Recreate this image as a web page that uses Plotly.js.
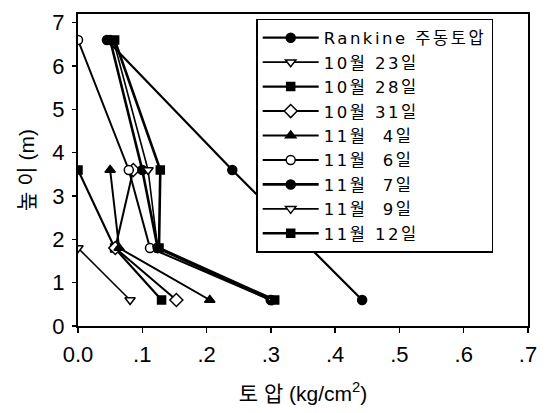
<!DOCTYPE html>
<html>
<head>
<meta charset="utf-8">
<script src="https://cdn.plot.ly/plotly-3.0.1.min.js"></script>
<style>html,body{margin:0;padding:0;background:#fff;}#chart{width:548px;height:413px;}
.legendtext{letter-spacing:2.5px;}</style>
</head>
<body>
<div id="chart"></div>
<script>
// Series names (legend order)
const seriesNames = ["Rankine 주동토압", "10월 23일", "10월 28일", "10월 31일", "11월 \u00a04일", "11월 \u00a06일", "11월 \u00a07일", "11월 \u00a09일", "11월 12일"];

// Earth pressure (kg/cm2) and heights (m) per series
const rankineX = [0.045, 0.24, 0.442];
const rankineY = [6.6, 3.6, 0.6];
const oct23X = [0.0, 0.081];
const oct23Y = [1.8, 0.6];
const oct28X = [0.0, 0.057, 0.13];
const oct28Y = [3.6, 1.8, 0.6];
const oct31X = [0.086, 0.058, 0.153];
const oct31Y = [3.6, 1.8, 0.6];
const nov4X = [0.05, 0.064, 0.205];
const nov4Y = [3.6, 1.8, 0.6];
const nov6X = [0.0, 0.079, 0.112, 0.30];
const nov6Y = [6.6, 3.6, 1.8, 0.6];
const nov7X = [0.05, 0.10, 0.124, 0.30];
const nov7Y = [6.6, 3.6, 1.8, 0.6];
const nov9X = [0.055, 0.109, 0.124, 0.302];
const nov9Y = [6.6, 3.6, 1.8, 0.6];
const nov12X = [0.057, 0.128, 0.126, 0.306];
const nov12Y = [6.6, 3.6, 1.8, 0.6];

// Axis ticks
const xTickVals = [0, 0.1, 0.2, 0.3, 0.4, 0.5, 0.6, 0.7];
const xTickText = ["0.0", ".1", ".2", ".3", ".4", ".5", ".6", ".7"];
const yTickVals = [0, 1, 2, 3, 4, 5, 6, 7];

const styles = [
  {sym: "circle", fill: "black", size: 9, lw: 2.2},
  {sym: "triangle-down", fill: "white", size: 9, lw: 1.6},
  {sym: "square", fill: "black", size: 8, lw: 2.2},
  {sym: "diamond", fill: "white", size: 10, lw: 2},
  {sym: "triangle-up", fill: "black", size: 9, lw: 2},
  {sym: "circle", fill: "white", size: 9, lw: 2},
  {sym: "circle", fill: "black", size: 9, lw: 2.6},
  {sym: "triangle-down", fill: "white", size: 9, lw: 1.6},
  {sym: "square", fill: "black", size: 8, lw: 2.6}
];
const xs = [rankineX, oct23X, oct28X, oct31X, nov4X, nov6X, nov7X, nov9X, nov12X];
const ys = [rankineY, oct23Y, oct28Y, oct31Y, nov4Y, nov6Y, nov7Y, nov9Y, nov12Y];

const traces = seriesNames.map((n, i) => ({
  x: xs[i], y: ys[i], name: n, type: "scatter", mode: "lines+markers",
  line: {color: "black", width: styles[i].lw},
  marker: {symbol: styles[i].sym, size: styles[i].size, color: styles[i].fill,
           line: {color: "black", width: 1.5}}
}));

const font = "'Liberation Sans', 'Noto Sans CJK KR', Arial, sans-serif";
const legFont = "'DejaVu Sans', 'Noto Sans CJK KR', sans-serif";
const layout = {
  width: 548, height: 413,
  margin: {l: 78, r: 20, t: 14, b: 87},
  paper_bgcolor: "white", plot_bgcolor: "white",
  font: {family: font, color: "black", size: 20},
  showlegend: true,
  legend: {
    x: 0.396, y: 0.984, xanchor: "left", yanchor: "top",
    bgcolor: "white", bordercolor: "black", borderwidth: 1.5,
    font: {family: legFont, size: 16.5, color: "black"},
    itemwidth: 56,
    entrywidth: 262, entrywidthmode: "pixels",
    tracegroupgap: 0
  },
  xaxis: {
    range: [0, 0.7], tickvals: xTickVals, ticktext: xTickText,
    showgrid: false, zeroline: false, showline: true, linewidth: 2, linecolor: "black",
    mirror: true, ticks: "outside", ticklen: 5, tickwidth: 1.5, tickcolor: "black",
    tickfont: {size: 22}, ticklabelstandoff: 3,
    title: {text: "토 압 (kg/cm<sup>2</sup>)", font: {size: 21}, standoff: 20}
  },
  yaxis: {
    range: [0, 7.2], tickvals: yTickVals,
    showgrid: false, zeroline: false, showline: true, linewidth: 2, linecolor: "black",
    mirror: true, ticks: "outside", ticklen: 4, tickwidth: 1.5, tickcolor: "black",
    tickfont: {size: 22}, ticklabelstandoff: 3,
    title: {text: "높 이 (m)", font: {size: 21}, standoff: 12}
  }
};
Plotly.newPlot("chart", traces, layout, {displayModeBar: false, staticPlot: true});
</script>
</body>
</html>
